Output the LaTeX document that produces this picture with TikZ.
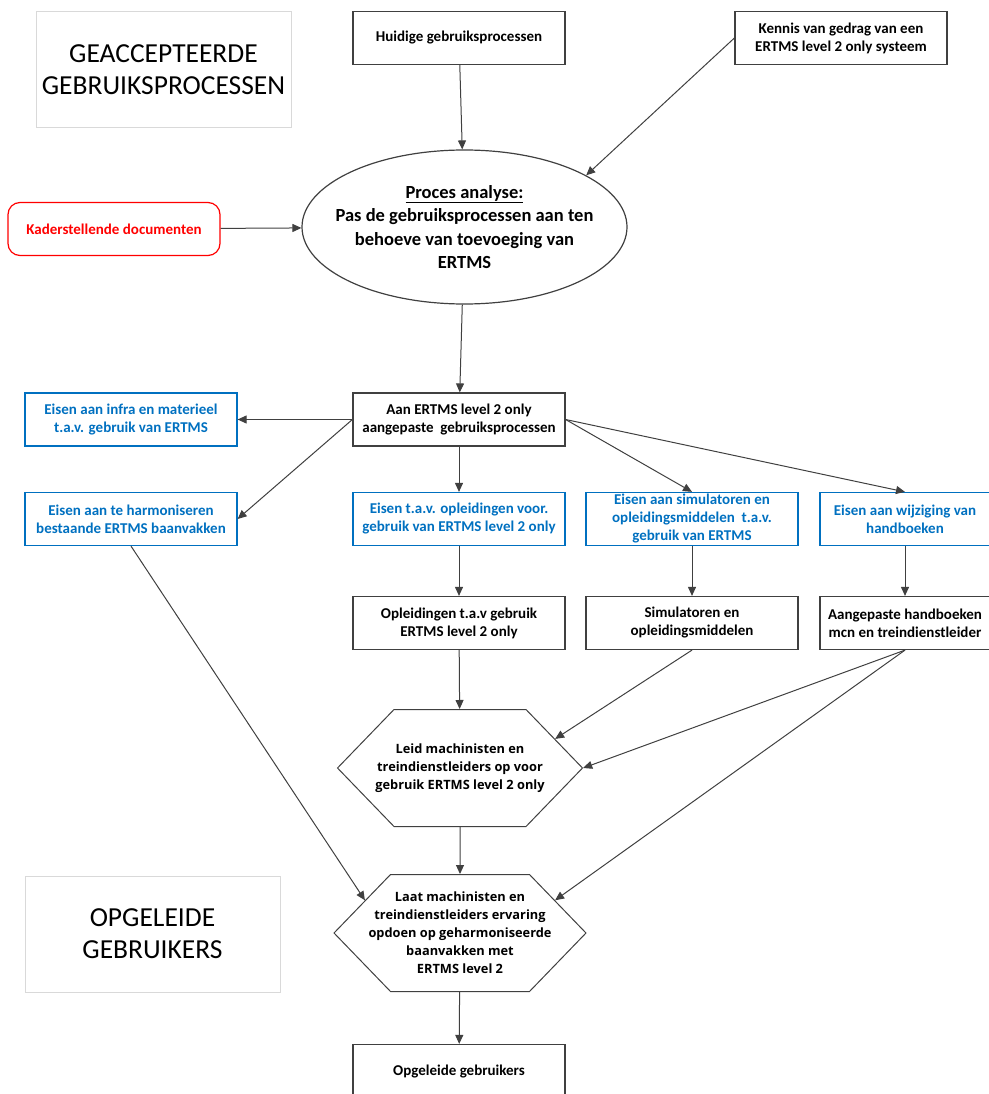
\documentclass[tikz,border=0pt]{standalone}
\usepackage{fontspec}
\setmainfont{Carlito}
\newfontfamily\hexfont{Open Sans}
\usetikzlibrary{arrows.meta,shapes.geometric,shapes.symbols}

\definecolor{reqblue}{RGB}{0,112,192}
\definecolor{edgegray}{RGB}{64,64,64}
\definecolor{labelgray}{RGB}{217,217,217}

\begin{document}
\begin{tikzpicture}[x=1pt,y=-1pt]
\tikzset{
  procbox/.style={rectangle,draw=edgegray,line width=1.2pt,minimum width=212pt,minimum height=53pt,inner sep=2pt,align=center,font=\fontsize{15}{18}\selectfont\bfseries},
  reqbox/.style={procbox,draw=reqblue,text=reqblue},
  docbox/.style={procbox,rounded corners=12pt,draw=red,text=red},
  labelbox/.style={rectangle,draw=labelgray,line width=1pt,minimum width=255pt,minimum height=116pt,align=center,font=\fontsize{27.5}{32}\selectfont},
  procellipse/.style={ellipse,draw=edgegray,line width=1.2pt,minimum width=325pt,minimum height=154pt,inner xsep=-30pt,inner ysep=0pt,align=center,font=\fontsize{18.5}{23.5}\selectfont\bfseries},
  hexnode/.style={signal,signal to=east and west,signal pointer angle=92,draw=edgegray,line width=1pt,minimum width=245pt,minimum height=117pt,inner xsep=-22pt,inner ysep=0pt,align=center,font=\hexfont\fontsize{12.8}{18}\selectfont\bfseries},
  flow/.style={-{Triangle[length=9pt,width=8pt]},draw=edgegray,line width=1pt}
}
\useasboundingbox (0,0) rectangle (988,1094);
\node[labelbox] (n_accept) at (163.5,70) {GEACCEPTEERDE\\GEBRUIKSPROCESSEN};
\node[labelbox] (n_trained) at (152.5,934) {OPGELEIDE\\GEBRUIKERS};
\node[procbox] (n_current) at (459,38) {Huidige gebruiksprocessen};
\node[procbox] (n_know) at (841,38) {Kennis van gedrag van een\\ERTMS level 2 only systeem};
\node[procellipse] (n_analysis) at (464.5,227) {\underline{Proces analyse:}\\Pas de gebruiksprocessen aan ten\\behoeve van toevoeging van\\ERTMS};
\node[docbox] (n_frame) at (114,229) {Kaderstellende documenten};
\node[procbox] (n_adapted) at (459,419.5) {Aan ERTMS level 2 only\\aangepaste\ \ gebruiksprocessen};
\node[reqbox] (n_r_infra) at (131,419.5) {Eisen aan infra en materieel\\t.a.v. gebruik van ERTMS};
\node[reqbox] (n_r_harm) at (131,519) {Eisen aan te harmoniseren\\bestaande ERTMS baanvakken};
\node[reqbox] (n_r_course) at (459,519) {Eisen t.a.v. opleidingen voor.\\gebruik van ERTMS level 2 only};
\node[reqbox] (n_r_sim) at (692,519) {Eisen aan simulatoren en\\opleidingsmiddelen\ \ t.a.v.\\gebruik van ERTMS};
\node[reqbox,minimum width=170pt] (n_r_book) at (905,519) {Eisen aan wijziging van\\handboeken};
\node[procbox] (n_course) at (459,623) {Opleidingen t.a.v gebruik\\ERTMS level 2 only};
\node[procbox] (n_sim) at (692,623) {Simulatoren en\\opleidingsmiddelen};
\node[procbox,minimum width=170pt] (n_book) at (905,623) {Aangepaste handboeken\\mcn en treindienstleider};
\node[hexnode] (n_train) at (460,768) {Leid machinisten en\\treindienstleiders op voor\\gebruik ERTMS level 2 only};
\node[hexnode] (n_exp) at (460,933) {Laat machinisten en\\treindienstleiders ervaring\\opdoen op geharmoniseerde\\baanvakken met\\ERTMS level 2};
\node[procbox] (n_users) at (459,1071) {Opgeleide gebruikers};
\draw[flow] (n_current) -- (n_analysis);
\draw[flow] (n_know.west) -- (n_analysis.23);
\draw[flow] (n_frame) -- (n_analysis);
\draw[flow] (n_analysis) -- (n_adapted);
\draw[flow] (n_adapted) -- (n_r_infra);
\draw[flow] (n_adapted.west) -- (n_r_harm.east);
\draw[flow] (n_adapted) -- (n_r_course);
\draw[flow] (n_adapted.east) -- (n_r_sim.north);
\draw[flow] (n_adapted.east) -- (n_r_book.north);
\draw[flow] (n_r_course) -- (n_course);
\draw[flow] (n_r_sim) -- (n_sim);
\draw[flow] (n_r_book) -- (n_book);
\draw[flow] (n_course) -- (n_train);
\draw[flow] (n_sim.south) -- (n_train.17);
\draw[flow] (n_book.south) -- (n_train.east);
\draw[flow] (n_book.south) -- (n_exp.19);
\draw[flow] (n_r_harm.south) -- (n_exp.161);
\draw[flow] (n_train) -- (n_exp);
\draw[flow] (n_exp) -- (n_users);
\end{tikzpicture}
\end{document}
